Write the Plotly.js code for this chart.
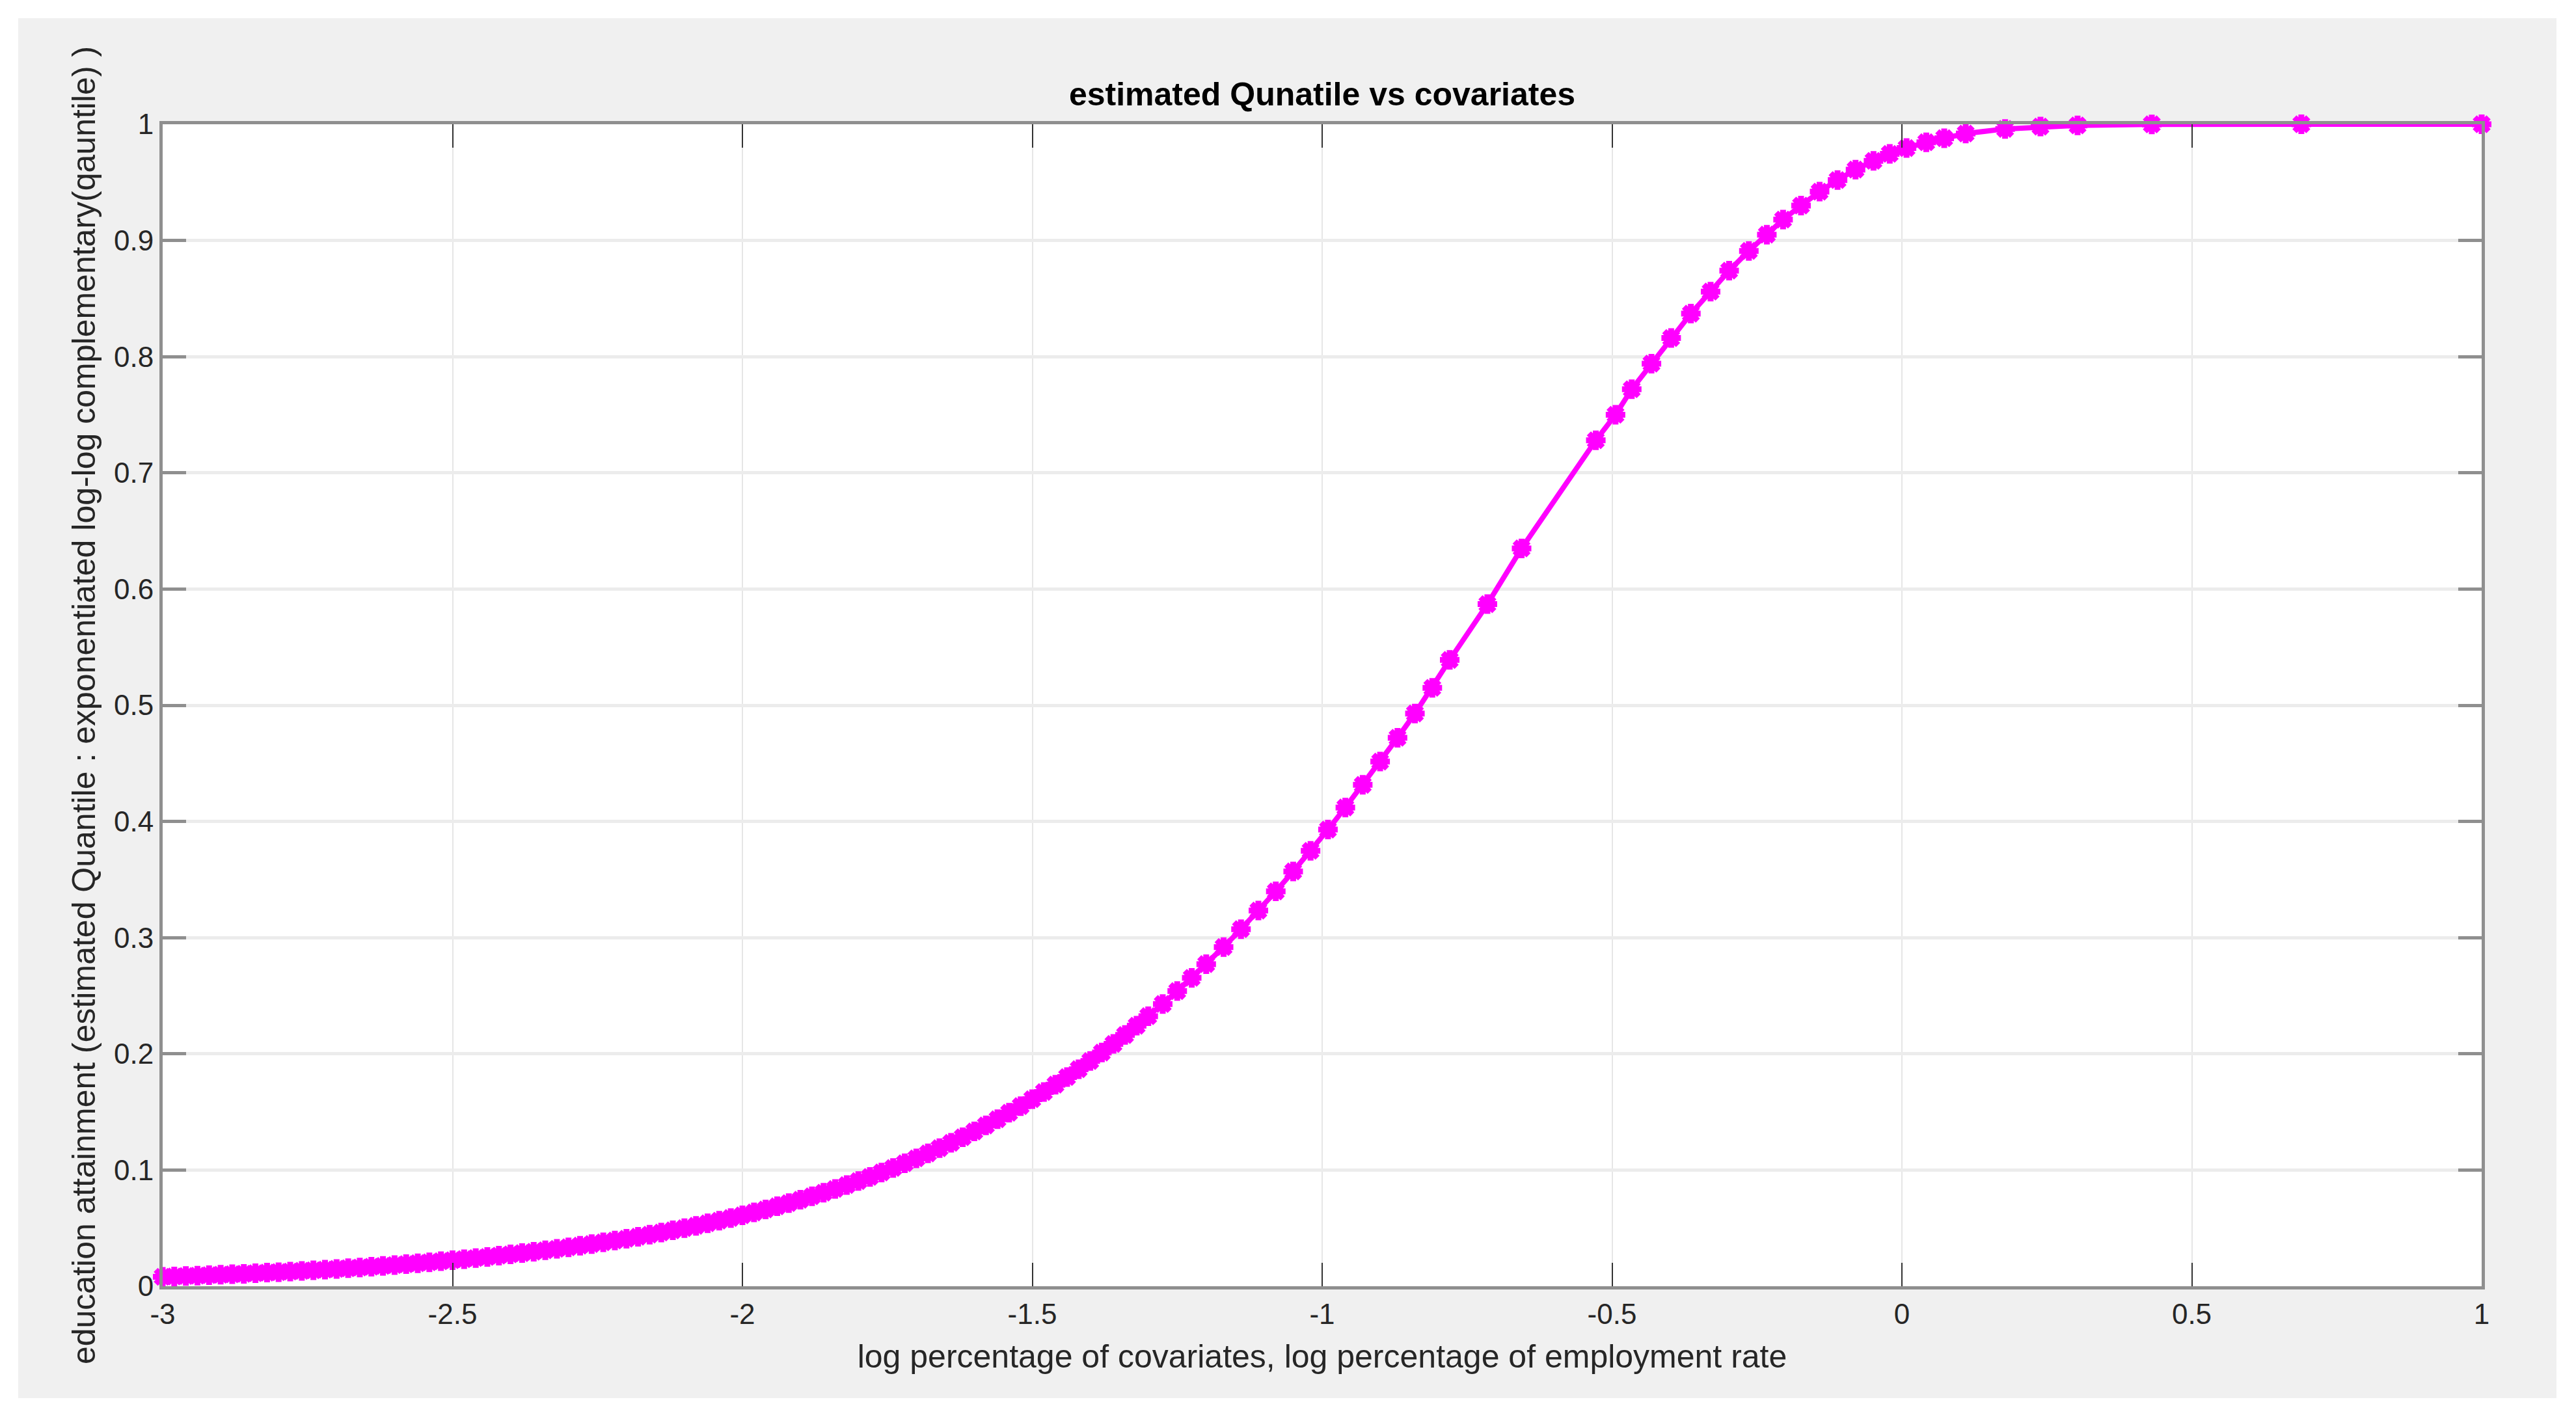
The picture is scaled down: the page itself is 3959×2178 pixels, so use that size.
<!DOCTYPE html>
<html>
<head>
<meta charset="utf-8">
<script src="https://cdn.plot.ly/plotly-3.0.1.min.js"></script>
<style>
  html, body { margin: 0; padding: 0; background: #ffffff; }
  #plot { position: absolute; left: 28px; top: 28px; width: 3901px; height: 2121px; }
</style>
</head>
<body>
<div id="plot"></div>
<script>
// log percentage of covariates (x) vs estimated quantile (y)
const logCovariate = [
  -3.00, -2.98, -2.96, -2.94, -2.92, -2.90, -2.88, -2.86, -2.84, -2.82,
  -2.80, -2.78, -2.76, -2.74, -2.72, -2.70, -2.68, -2.66, -2.64, -2.62,
  -2.60, -2.58, -2.56, -2.54, -2.52, -2.50, -2.48, -2.46, -2.44, -2.42,
  -2.40, -2.38, -2.36, -2.34, -2.32, -2.30, -2.28, -2.26, -2.24, -2.22,
  -2.20, -2.18, -2.16, -2.14, -2.12, -2.10, -2.08, -2.06, -2.04, -2.02,
  -2.00, -1.98, -1.96, -1.94, -1.92, -1.90, -1.88, -1.86, -1.84, -1.82,
  -1.80, -1.78, -1.76, -1.74, -1.72, -1.70, -1.68, -1.66, -1.64, -1.62,
  -1.60, -1.58, -1.56, -1.54, -1.52, -1.50, -1.48, -1.46, -1.44, -1.42,
  -1.40, -1.38, -1.36, -1.34, -1.32, -1.30, -1.275, -1.25, -1.225, -1.20,
  -1.17, -1.14, -1.11, -1.08, -1.05, -1.02, -0.99, -0.96, -0.93, -0.90,
  -0.87, -0.84, -0.81, -0.78, -0.715, -0.656, -0.528, -0.494, -0.466, -0.432,
  -0.398, -0.364, -0.330, -0.298, -0.264, -0.233, -0.205, -0.174, -0.142, -0.111,
  -0.080, -0.049, -0.021, 0.008, 0.042, 0.073, 0.110, 0.178, 0.239, 0.303,
  0.431, 0.689, 1.000,
];
const estQuantile = [
  0.0081, 0.0084, 0.0088, 0.0091, 0.0095, 0.0099, 0.0103, 0.0107, 0.0112, 0.0117,
  0.0121, 0.0126, 0.0132, 0.0137, 0.0143, 0.0149, 0.0155, 0.0161, 0.0168, 0.0175,
  0.0182, 0.0190, 0.0198, 0.0206, 0.0215, 0.0224, 0.0233, 0.0242, 0.0252, 0.0263,
  0.0274, 0.0285, 0.0297, 0.0309, 0.0322, 0.0335, 0.0349, 0.0363, 0.0378, 0.0393,
  0.0409, 0.0426, 0.0444, 0.0462, 0.0481, 0.0500, 0.0520, 0.0542, 0.0564, 0.0587,
  0.0610, 0.0635, 0.0661, 0.0688, 0.0715, 0.0744, 0.0774, 0.0805, 0.0837, 0.0871,
  0.0905, 0.0941, 0.0979, 0.1018, 0.1058, 0.1100, 0.1143, 0.1188, 0.1234, 0.1282,
  0.1332, 0.1384, 0.1437, 0.1493, 0.1550, 0.1610, 0.1671, 0.1735, 0.1800, 0.1868,
  0.1938, 0.2011, 0.2085, 0.2162, 0.2242, 0.2324, 0.2429, 0.2540, 0.2654, 0.2772,
  0.2919, 0.3073, 0.3233, 0.3398, 0.3570, 0.3747, 0.3930, 0.4120, 0.4315, 0.4515,
  0.4720, 0.4929, 0.5150, 0.5390, 0.5870, 0.6350, 0.7280, 0.7500, 0.7720, 0.7940,
  0.8160, 0.8370, 0.8560, 0.8740, 0.8910, 0.9050, 0.9180, 0.9300, 0.9420, 0.9520,
  0.9610, 0.9685, 0.9745, 0.9795, 0.9845, 0.9880, 0.9920, 0.9960, 0.9980, 0.9990,
  0.9999, 1.0000, 1.0000,
];

const xTickVals = [-3, -2.5, -2, -1.5, -1, -0.5, 0, 0.5, 1];
const xTickText = ["-3", "-2.5", "-2", "-1.5", "-1", "-0.5", "0", "0.5", "1"];
const yTickVals = [0, 0.1, 0.2, 0.3, 0.4, 0.5, 0.6, 0.7, 0.8, 0.9, 1];
const yTickText = ["0", "0.1", "0.2", "0.3", "0.4", "0.5", "0.6", "0.7", "0.8", "0.9", "1"];

const FONT = "Liberation Sans, Arial, sans-serif";
const MAGENTA = "#ff00ff";

const curve = {
  x: logCovariate,
  y: estQuantile,
  type: "scatter",
  mode: "lines+markers",
  line: { color: MAGENTA, width: 8 },
  marker: {
    symbol: "asterisk-open",
    size: 25,
    color: MAGENTA,
    line: { color: MAGENTA, width: 9 },
  },
  cliponaxis: false,
  showlegend: false,
  hoverinfo: "x+y",
};

const axisCommon = {
  showline: true,
  linecolor: "#8f8f8f",
  linewidth: 5,
  mirror: "ticks",
  ticks: "inside",
  ticklen: 36,
  zeroline: false,
  showgrid: true,
  tickfont: { family: FONT, size: 44, color: "#262626" },
};

const layout = {
  paper_bgcolor: "#f0f0f0",
  plot_bgcolor: "#ffffff",
  margin: { l: 222, r: 115, t: 163, b: 172 },
  title: {
    text: "<b>estimated Qunatile vs covariates</b>",
    font: { family: FONT, size: 50, color: "#000000" },
    x: 0.5,
    xref: "paper",
    xanchor: "center",
    y: 0.9453,
    yanchor: "middle",
  },
  xaxis: Object.assign({}, axisCommon, {
    range: [-3, 1],
    tickmode: "array",
    tickvals: xTickVals,
    ticktext: xTickText,
    tickcolor: "#333333",
    tickwidth: 2,
    gridcolor: "#e6e6e6",
    gridwidth: 2,
    title: {
      text: "log percentage of covariates, log percentage of employment rate",
      font: { family: FONT, size: 50, color: "#262626" },
      standoff: 26,
    },
  }),
  yaxis: Object.assign({}, axisCommon, {
    range: [0, 1],
    tickmode: "array",
    tickvals: yTickVals,
    ticktext: yTickText,
    tickcolor: "#8f8f8f",
    tickwidth: 5,
    gridcolor: "#ececec",
    gridwidth: 5,
    title: {
      text: "education attainment (estimated Quantile : exponentiated log-log complementary(qauntile) )",
      font: { family: FONT, size: 50, color: "#262626" },
      standoff: 14,
    },
  }),
};

Plotly.newPlot("plot", [curve], layout, { displayModeBar: false, staticPlot: true });
</script>
</body>
</html>
